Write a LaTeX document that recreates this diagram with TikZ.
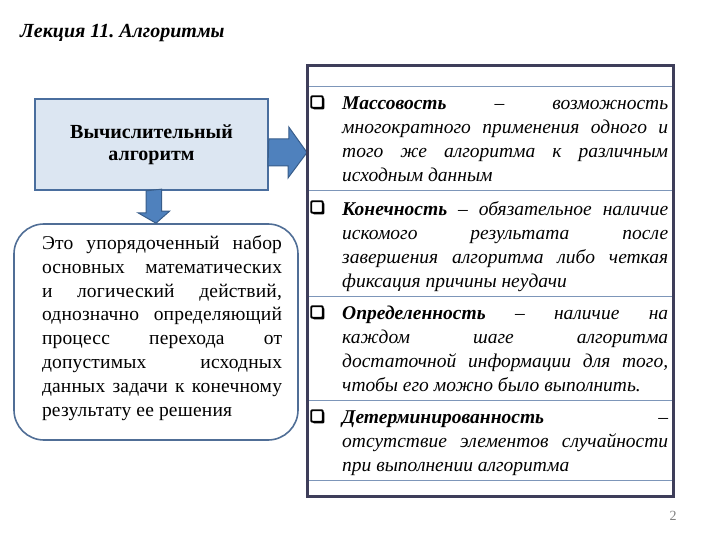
\documentclass[tikz,border=0pt]{standalone}
\usepackage{fontspec}
\setmainfont{Liberation Serif}
\newfontfamily\spreadfont[LetterSpace=1]{Liberation Serif}
\usetikzlibrary{calc,shadows}
\frenchspacing

\definecolor{boxfill}{RGB}{220,230,242}
\definecolor{boxline}{RGB}{74,110,158}
\definecolor{arrowfill}{RGB}{79,129,189}
\definecolor{arrowline}{RGB}{56,93,138}
\definecolor{roundline}{RGB}{80,110,150}
\definecolor{framecol}{RGB}{62,62,90}
\definecolor{sepcol}{RGB}{125,150,185}

\tikzset{
  algobox/.style={draw=boxline, line width=1.6pt, fill=boxfill, minimum width=233pt,
    minimum height=91pt, align=center, font=\fontsize{20}{22}\selectfont\bfseries},
  defbox/.style={draw=roundline, line width=1.6pt, fill=white, rounded corners=30pt,
    minimum width=284pt, minimum height=216pt},
  deftxt/.style={inner sep=0pt, text width=240pt, align=justify,
    font=\spreadfont\fontsize{19.5}{23.8}\selectfont},
  blockarrow/.style={draw=arrowline, line width=1pt, fill=arrowfill, line join=miter},
  propitem/.style={anchor=north west, inner sep=0pt, text width=326pt, align=justify,
    font=\fontsize{19.5}{24}\selectfont\itshape},
  chk/.style={draw=black, fill=white, line width=1.8pt, rounded corners=1pt,
    minimum size=11.5pt, inner sep=0pt,
    general shadow={fill=black, shadow xshift=1.6pt, shadow yshift=-1.6pt}},
  framebox/.style={draw=framecol, line width=3pt},
  sepline/.style={draw=sepcol, line width=0.9pt},
  title/.style={anchor=west, inner sep=0pt, font=\fontsize{20}{22}\selectfont\bfseries\itshape},
  pnum/.style={inner sep=0pt, text=gray, font=\fontsize{14}{16}\selectfont}
}

\begin{document}
\begin{tikzpicture}[x=1pt, y=-1pt]

\useasboundingbox (0,0) rectangle (720,540);

\coordinate (fnw) at (307,66);
\coordinate (fse) at (673,496);

\node[title] (title) at (20,33) {Лекция 11. Алгоритмы};

\node[algobox] (algo) at (151.5,144.5) {Вычислительный\\алгоритм};

\node[defbox] (def) at (156,332) {};
\node[deftxt] (deftxt) at (162,328) {Это упорядоченный набор\linebreak
  основных математических\linebreak
  и логический действий,\linebreak
  однозначно определяющий\linebreak
  процесс перехода от\linebreak
  допустимых исходных\linebreak
  данных задачи к конечному\linebreak
  результату ее решения};

\coordinate (ra) at ($(algo.east)+(0,8)$);
\coordinate (rt) at (fnw |- ra);
\draw[blockarrow] (ra) ++(0,-13.5) -- ++(20,0) -- ++(0,-12) -- (rt)
  -- ++(-19,25.5) -- ++(0,-12) -- ++(-20,0) -- cycle;

\draw[blockarrow] (algo.south) ++(-5.5,0) -- ++(0,22) -- ++(-8,0) -- (def.north)
  -- ++(13.5,-12) -- ++(-8,0) -- ++(0,-22) -- cycle;

\foreach \yy in {86,190,296,400,480}
  \draw[sepline] (fnw |- 0,\yy) -- (fse |- 0,\yy);
\draw[framebox] (fnw) rectangle (fse);

\node[chk] (c1) at (317,102) {};
\node[propitem] (mass) at (342,97) {\textbf{Массовость} – возможность\linebreak
  многократного применения одного и\linebreak
  того же алгоритма к различным\linebreak
  исходным данным};

\node[chk] (c2) at (317,207) {};
\node[propitem] (kon) at (342,201) {\textbf{Конечность} – обязательное наличие\linebreak
  искомого результата после\linebreak
  завершения алгоритма либо четкая\linebreak
  фиксация причины неудачи};

\node[chk] (c3) at (317,312) {};
\node[propitem] (opr) at (342,306) {\textbf{Определенность} – наличие на\linebreak
  каждом шаге алгоритма\linebreak
  достаточной информации для того,\linebreak
  чтобы его можно было выполнить.};

\node[chk] (c4) at (317,416) {};
\node[propitem] (det) at (342,411) {\textbf{Детерминированность} –\linebreak
  отсутствие элементов случайности\linebreak
  при выполнении алгоритма};

\node[pnum] (pn) at (673,516) {2};

\end{tikzpicture}
\end{document}
